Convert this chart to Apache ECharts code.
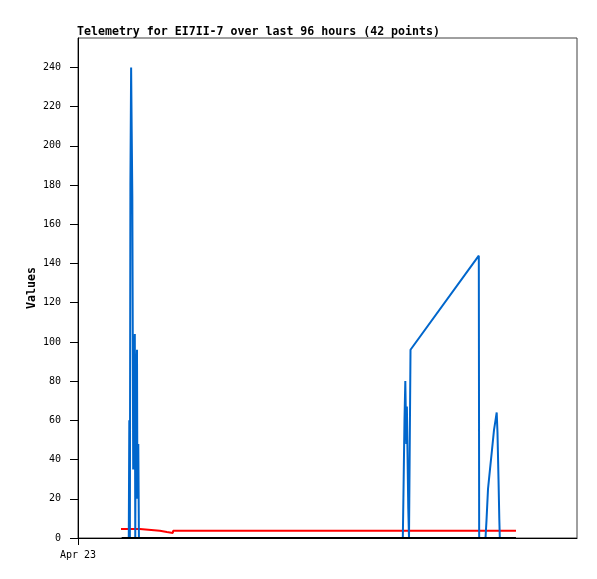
<!DOCTYPE html>
<html>
<head>
<meta charset="utf-8">
<script src="https://cdn.jsdelivr.net/npm/echarts@6/dist/echarts.min.js"></script>
<style>html,body{margin:0;padding:0;background:#fff;}#c{width:597px;height:579px;}</style>
</head>
<body>
<div id="c"></div>
<script>
// hours since Apr 23 00:00
var blueHours = [9.77,9.87,9.98,10.08,10.22,10.33,10.45,10.62,10.93,11.02,11.12,11.35,11.43,11.60,11.72,
  62.49,62.60,62.81,62.97,63.16,63.27,63.54,63.68,63.97,77.11,
  77.18,78.40,78.59,78.88,79.26,79.65,80.03,80.32,80.55,80.70,80.90,81.05,81.15];
var blueValues = [0,60,0,180,240,208,174,35,104,0,73,96,20,48,0,
  0,20,60,80,48,67,15,0,96,144,
  0,0,9,25,35,45,55,60,64,54,30,10,0];
var redHours = [8.27,11.9,11.95,15.75,15.8,17.1,17.15,18.25,18.3,84.26];
var redValues = [4.6,4.6,3.7,3.7,3.1,3.1,2.6,2.6,3.7,3.7];
var blackHours = [8.4,84.26];
var blackValues = [0,0];
var yTicks = [0,20,40,60,80,100,120,140,160,180,200,220,240];
var xTickLabel = 'Apr 23';

function zip(a,b){return a.map(function(v,i){return [v,b[i]];});}
var mono = 'DejaVu Sans Mono';
var chart = echarts.init(document.getElementById('c'), null, {renderer:'canvas'});
chart.setOption({
  animation:false,
  backgroundColor:'#fff',
  title:{text:'Telemetry for EI7II-7 over last 96 hours (42 points)', left:72, top:21,
    textStyle:{fontFamily:mono, fontSize:11.6, fontWeight:'bold', color:'#000'}},
  grid:{left:78, top:38, right:20, bottom:41, show:true, borderColor:'#404040', borderWidth:1, backgroundColor:'transparent'},
  xAxis:{type:'value', min:0, max:96,
    axisLine:{show:true, onZero:false, lineStyle:{color:'#000', width:1}},
    axisTick:{show:true, length:7, customValues:[0], lineStyle:{color:'#000'}},
    axisLabel:{show:true, customValues:[0], margin:12, formatter:function(){return xTickLabel;},
      fontFamily:mono, fontSize:10, color:'#000'},
    splitLine:{show:false}},
  yAxis:{type:'value', min:0, max:255, name:'Values', nameLocation:'middle', nameGap:40, nameMoveOverlap:false,
    nameTextStyle:{fontFamily:mono, fontSize:11.6, fontWeight:'bold', color:'#000'},
    axisLine:{show:true, lineStyle:{color:'#000', width:1}},
    axisTick:{show:true, length:8, customValues:yTicks, lineStyle:{color:'#000'}},
    axisLabel:{show:true, customValues:yTicks, margin:17, fontFamily:mono, fontSize:10, color:'#000'},
    splitLine:{show:false}},
  series:[
    {type:'line', data:zip(redHours,redValues), showSymbol:false, clip:false, z:2,
      lineStyle:{color:'#ff0000', width:2}},
    {type:'line', data:zip(blueHours,blueValues), showSymbol:false, clip:false, z:3,
      lineStyle:{color:'#0066cc', width:2}},
    {type:'line', data:zip(blackHours,blackValues), showSymbol:false, clip:false, z:4,
      lineStyle:{color:'#000', width:2}}
  ]
});
</script>
</body>
</html>
